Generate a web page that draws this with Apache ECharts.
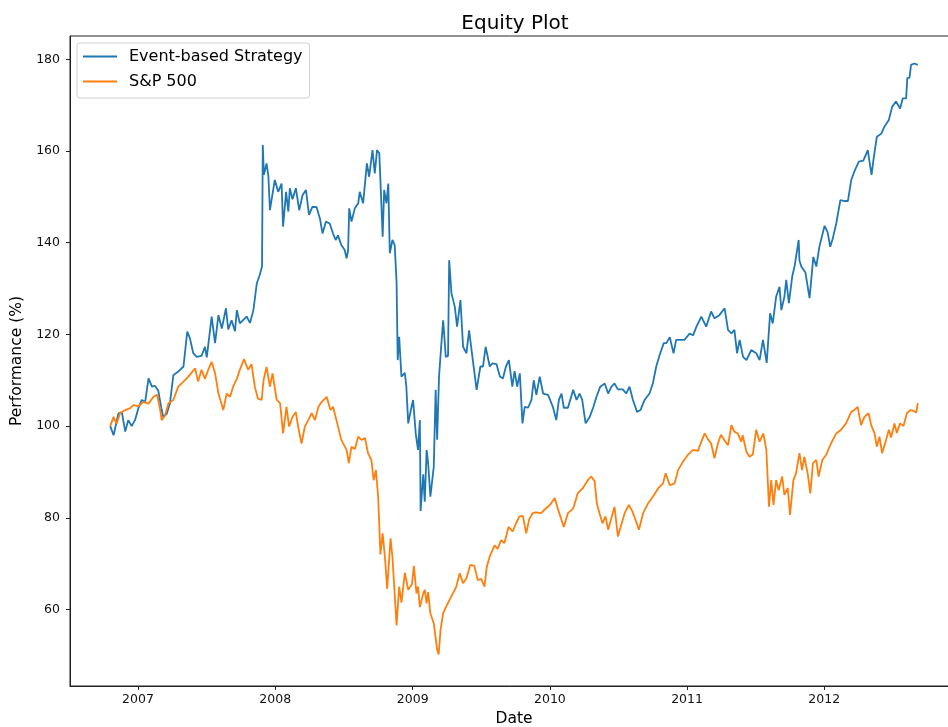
<!DOCTYPE html>
<html>
<head>
<meta charset="utf-8">
<script src="https://cdn.jsdelivr.net/npm/echarts@6/dist/echarts.min.js"></script>
<style>html,body{margin:0;padding:0;background:#fff;}#c{width:948px;height:727px;}</style>
</head>
<body>
<div id="c"></div>
<script>
const strategyDates = ['2006-10-19','2006-10-28','2006-11-01','2006-11-10','2006-11-19','2006-11-28','2006-12-06','2006-12-15','2006-12-24','2007-01-02','2007-01-11','2007-01-20','2007-01-29','2007-02-07','2007-02-15','2007-02-24','2007-03-05','2007-03-09','2007-03-18','2007-03-27','2007-04-05','2007-04-18','2007-05-02','2007-05-12','2007-05-19','2007-05-28','2007-06-06','2007-06-19','2007-06-28','2007-07-03','2007-07-16','2007-07-25','2007-08-03','2007-08-12','2007-08-23','2007-08-29','2007-09-07','2007-09-16','2007-09-21','2007-09-29','2007-10-17','2007-10-26','2007-11-04','2007-11-13','2007-11-21','2007-11-27','2007-11-29','2007-12-02','2007-12-09','2007-12-14','2007-12-18','2007-12-31','2008-01-09','2008-01-18','2008-01-22','2008-01-30','2008-02-05','2008-02-09','2008-02-16','2008-02-25','2008-03-05','2008-03-14','2008-03-23','2008-03-31','2008-04-09','2008-04-20','2008-04-29','2008-05-06','2008-05-15','2008-05-25','2008-06-03','2008-06-10','2008-06-16','2008-06-25','2008-07-04','2008-07-09','2008-07-13','2008-07-16','2008-07-22','2008-07-31','2008-08-09','2008-08-13','2008-08-22','2008-09-01','2008-09-07','2008-09-16','2008-09-22','2008-09-28','2008-10-04','2008-10-07','2008-10-13','2008-10-17','2008-10-23','2008-10-28','2008-11-01','2008-11-08','2008-11-14','2008-11-19','2008-11-22','2008-11-26','2008-12-02','2008-12-11','2008-12-15','2008-12-20','2008-12-27','2009-01-02','2009-01-09','2009-01-15','2009-01-20','2009-01-22','2009-01-29','2009-02-02','2009-02-07','2009-02-11','2009-02-17','2009-02-26','2009-03-03','2009-03-07','2009-03-12','2009-03-19','2009-03-23','2009-03-30','2009-04-05','2009-04-08','2009-04-14','2009-04-23','2009-04-29','2009-05-08','2009-05-15','2009-05-24','2009-05-31','2009-06-11','2009-06-20','2009-06-30','2009-07-07','2009-07-14','2009-07-25','2009-08-01','2009-08-12','2009-08-21','2009-08-29','2009-09-06','2009-09-14','2009-09-23','2009-09-29','2009-10-06','2009-10-13','2009-10-20','2009-10-26','2009-11-04','2009-11-13','2009-11-19','2009-11-26','2009-12-05','2009-12-14','2009-12-27','2010-01-09','2010-01-18','2010-01-25','2010-02-01','2010-02-07','2010-02-18','2010-03-04','2010-03-13','2010-03-21','2010-03-28','2010-04-06','2010-04-17','2010-04-26','2010-05-05','2010-05-15','2010-05-27','2010-06-05','2010-06-14','2010-06-22','2010-07-01','2010-07-14','2010-07-23','2010-08-01','2010-08-10','2010-08-21','2010-08-30','2010-09-10','2010-09-23','2010-10-02','2010-10-11','2010-10-20','2010-10-31','2010-11-07','2010-11-16','2010-11-26','2010-12-03','2010-12-25','2011-01-08','2011-01-17','2011-01-26','2011-02-08','2011-02-21','2011-03-06','2011-03-15','2011-03-28','2011-04-11','2011-04-20','2011-04-29','2011-05-07','2011-05-14','2011-05-21','2011-05-30','2011-06-08','2011-06-21','2011-07-04','2011-07-13','2011-07-22','2011-08-01','2011-08-10','2011-08-17','2011-08-26','2011-09-04','2011-09-09','2011-09-17','2011-09-22','2011-09-29','2011-10-08','2011-10-14','2011-10-25','2011-10-27','2011-11-01','2011-11-12','2011-11-23','2011-12-03','2011-12-11','2011-12-19','2012-01-02','2012-01-10','2012-01-17','2012-01-24','2012-02-02','2012-02-13','2012-02-24','2012-03-04','2012-03-13','2012-03-21','2012-04-02','2012-04-14','2012-04-26','2012-04-30','2012-05-06','2012-05-11','2012-05-20','2012-06-01','2012-06-09','2012-06-21','2012-06-30','2012-07-10','2012-07-21','2012-07-28','2012-08-06','2012-08-09','2012-08-15','2012-08-19','2012-08-28','2012-09-06'];
const strategyValues = [100,98.0,97.7,102.8,103,98.8,101.3,100,101.3,103.9,105.7,105.3,110.4,108.6,108.8,107.7,103.5,102.0,102.6,105,111.1,111.9,113,120.6,119.2,115.9,115.1,115.3,117.3,115,123.9,118.1,124.2,121.3,125.7,121.1,123.1,120.7,125.3,122.4,123.9,122.5,125.3,131.1,133,134.8,161.3,154.8,157.3,154.4,147.1,153.7,151.1,152.9,143.5,151.1,146.8,151.9,149.5,151.9,147.1,150.4,151.5,146.1,147.8,147.8,145.3,142,144.6,144.2,142,140.6,141.6,139.5,138.4,136.6,138.3,147.5,144.6,147.5,148.6,151.1,148.6,157.3,154.4,160.2,155.1,160.2,159.5,153.7,141.3,151.5,148.6,152.9,137.7,140.6,139.5,131.4,114.4,119.5,110.8,111.6,108.6,100.6,103.5,105.7,98.4,94.8,101.3,81.5,89.5,83.5,94.8,91.9,84.6,91.1,107.9,97,110.8,118.8,123.1,115.1,115.3,136.2,129,126,121.7,127.5,117.3,115.9,120.9,113.7,107.9,113,113,117.3,113,113.7,113.5,110.8,110.4,113,114.4,108.6,112,108.6,111.5,100.6,104.2,104,105.7,110,106.8,110.8,107.1,106.8,104.2,101.3,105.7,107.1,104,104,107.9,105.7,107.1,105.7,100.6,102,104,106.4,108.6,109.3,107.1,108.6,109.3,108,108,107.1,108.6,105.7,103.1,103.5,105.7,107.1,109.3,113,115.5,118.1,118.1,119.4,115.9,118.8,118.8,120.2,119.8,121.7,123.9,121.7,125.0,123.5,124.2,125.7,121,120.2,121,115.9,118.8,115.1,114.4,116.6,115.9,114.4,118.8,113.8,124.6,122.4,128.2,130.4,125.3,128.2,131.9,126.8,132.7,134.8,140.6,136.2,134.8,133.5,127.9,136.9,134.8,139.1,143.7,142.3,139.1,141,144.2,149.3,149.1,149.1,153.7,155.5,157.7,157.9,160.2,157.9,154.8,158.1,163.1,163.8,165.3,166.8,169.7,170.8,169.3,171.5,171.5,175.9,176,178.8,179.1,178.8];

const spDates = ['2006-10-19','2006-10-28','2006-11-05','2006-11-14','2006-11-28','2006-12-11','2006-12-20','2007-01-02','2007-01-15','2007-01-29','2007-02-11','2007-02-21','2007-03-01','2007-03-05','2007-03-14','2007-03-23','2007-04-05','2007-04-18','2007-05-02','2007-05-15','2007-06-02','2007-06-10','2007-06-19','2007-06-28','2007-07-07','2007-07-16','2007-07-25','2007-08-03','2007-08-16','2007-08-25','2007-09-03','2007-09-11','2007-09-21','2007-09-29','2007-10-10','2007-10-21','2007-10-30','2007-11-08','2007-11-16','2007-11-26','2007-12-01','2007-12-09','2007-12-18','2007-12-25','2008-01-05','2008-01-14','2008-01-22','2008-01-31','2008-02-07','2008-02-16','2008-02-25','2008-03-02','2008-03-11','2008-03-20','2008-03-29','2008-04-07','2008-04-16','2008-04-25','2008-05-04','2008-05-17','2008-05-27','2008-06-03','2008-06-12','2008-06-25','2008-07-09','2008-07-15','2008-07-22','2008-07-31','2008-08-09','2008-08-18','2008-08-27','2008-09-04','2008-09-13','2008-09-19','2008-09-25','2008-10-01','2008-10-07','2008-10-13','2008-10-19','2008-10-25','2008-11-03','2008-11-08','2008-11-19','2008-11-26','2008-12-02','2008-12-11','2008-12-20','2008-12-30','2009-01-04','2009-01-11','2009-01-15','2009-01-20','2009-01-29','2009-02-02','2009-02-07','2009-02-11','2009-02-17','2009-02-26','2009-03-07','2009-03-11','2009-03-16','2009-03-23','2009-03-31','2009-04-09','2009-04-18','2009-04-27','2009-05-06','2009-05-15','2009-05-24','2009-06-03','2009-06-14','2009-06-23','2009-07-02','2009-07-11','2009-07-17','2009-07-26','2009-08-07','2009-08-15','2009-08-24','2009-09-02','2009-09-13','2009-09-24','2009-10-03','2009-10-12','2009-10-21','2009-10-30','2009-11-07','2009-11-16','2009-11-25','2009-12-09','2009-12-17','2010-01-01','2010-01-14','2010-01-22','2010-02-01','2010-02-07','2010-02-18','2010-03-04','2010-03-16','2010-03-29','2010-04-12','2010-04-21','2010-04-30','2010-05-06','2010-05-13','2010-05-21','2010-05-29','2010-06-05','2010-06-14','2010-06-22','2010-07-01','2010-07-10','2010-07-19','2010-07-30','2010-08-08','2010-08-17','2010-08-26','2010-09-06','2010-09-19','2010-10-02','2010-10-16','2010-10-29','2010-11-05','2010-11-16','2010-11-29','2010-12-08','2010-12-21','2011-01-03','2011-01-17','2011-01-30','2011-02-08','2011-02-17','2011-02-25','2011-03-06','2011-03-15','2011-03-24','2011-04-01','2011-04-13','2011-04-20','2011-04-29','2011-05-07','2011-05-16','2011-05-25','2011-05-29','2011-06-08','2011-06-16','2011-06-25','2011-07-04','2011-07-13','2011-07-23','2011-07-31','2011-08-07','2011-08-13','2011-08-19','2011-08-26','2011-09-02','2011-09-11','2011-09-17','2011-09-26','2011-10-02','2011-10-11','2011-10-18','2011-10-27','2011-11-03','2011-11-09','2011-11-18','2011-11-25','2011-12-02','2011-12-11','2011-12-17','2011-12-27','2012-01-06','2012-01-19','2012-02-02','2012-02-15','2012-02-28','2012-03-13','2012-03-21','2012-03-30','2012-04-08','2012-04-17','2012-04-28','2012-05-05','2012-05-14','2012-05-20','2012-05-27','2012-06-03','2012-06-12','2012-06-21','2012-06-27','2012-07-06','2012-07-12','2012-07-21','2012-07-30','2012-08-08','2012-08-17','2012-08-26','2012-09-02','2012-09-06'];
const spValues = [100,102,100.5,102.8,103.5,103.9,104.6,104.3,105.3,104.9,106.4,106.8,103.5,101.3,102.3,105,105.7,108.6,109.7,110.8,112.6,109.7,112.3,110.3,112.3,114.0,111.6,107.1,103.5,107.1,106.4,108.6,110.3,112.3,114.6,112.3,113.5,108.5,106,105.7,110,112.9,108.6,111.5,105.7,105,98.4,104.2,99.9,102,103.1,99.9,96.2,99.9,101.3,102.8,101.3,104.2,105.3,106.4,103.5,104.2,101.3,97,94.8,91.9,95.5,95,97.7,97,97.4,94.1,92.6,88.2,90.4,84.6,72,76.6,71.5,64.5,75.5,71.5,56.5,65,61.5,68,64.3,65.5,69.5,63.5,65,60.5,63.5,64.3,61.3,63.8,59.1,57,51.2,50.2,55.5,59.2,60.6,62.1,63.5,65,67.9,65.7,66.8,69.7,69.5,66.4,66.7,65,69.3,71.8,74,73.2,75.1,74.5,78,77,78.8,80.3,80.4,76.6,79.7,81,81.2,81,81.7,82.8,84.3,82,79.5,78,81,82,85.3,86.4,88.2,89.0,88,83.1,81,78.8,80.3,77.4,80,82.4,75.9,78.5,81,82.8,81.5,79.5,77.4,81,83.1,84.6,86.4,87.5,89.7,87.1,87.5,90.4,92.2,93.7,94.8,94.6,96.6,98.4,97.2,96.2,93,96.2,98.1,96.6,95.8,100.2,98.8,98.4,96.6,98,94.4,93.3,93.8,99.2,96.6,98.4,94.8,82.4,88.2,82.8,88.2,86,89.0,85,86.5,80.6,88.2,89.7,94.1,90.4,93.3,89.7,85.3,91.9,92.6,89,92.6,93.7,96.2,98.4,99.2,100.6,103.1,103.5,104.2,100.2,102,102.8,100.2,98.4,95.5,97.7,94.1,96.5,99.2,97.5,100.6,98.5,100.6,100,102.8,103.5,103.3,103,105];

const yearTicks = ['2007-01-01','2008-01-01','2009-01-01','2010-01-01','2011-01-01','2012-01-01'];
const valueTicks = [60,80,100,120,140,160,180];

function ts(s){const p=s.split('-').map(Number);return Date.UTC(p[0],p[1]-1,p[2]);}
function pairs(d,v){return d.map((x,i)=>[ts(x),v[i]]);}

const FONT = 'DejaVu Sans';
const chart = echarts.init(document.getElementById('c'), null, {renderer:'canvas'});
chart.setOption({
  animation:false,
  backgroundColor:'#ffffff',
  textStyle:{fontFamily:FONT},
  title:{text:'Equity Plot',left:510,top:9,textAlign:'center',
    textStyle:{fontFamily:FONT,fontSize:20,fontWeight:'normal',color:'#000'}},
  legend:{orient:'vertical',left:77,top:43,icon:'rect',itemWidth:34,itemHeight:2,itemGap:6,
    padding:[4,7,7,6],backgroundColor:'#fff',borderColor:'#d0d0d0',borderWidth:1,borderRadius:3,
    textStyle:{fontFamily:FONT,fontSize:16,color:'#000',lineHeight:19,padding:[0,0,0,7]},
    data:['Event-based Strategy','S&P 500']},
  grid:{left:70,right:-10,top:36,bottom:41,show:true,borderColor:'#222',borderWidth:1,
    containLabel:false,outerBoundsMode:'none'},
  xAxis:{type:'value',min:ts('2006-07-04'),max:ts('2012-12-22'),scale:true,
    name:'Date',nameLocation:'middle',nameGap:25,
    nameTextStyle:{fontFamily:FONT,fontSize:15.5,color:'#000'},
    splitLine:{show:false},
    axisLine:{show:true,lineStyle:{color:'#222',width:1}},
    axisTick:{show:true,length:4,inside:false,lineStyle:{color:'#222'},customValues:yearTicks.map(ts)},
    axisLabel:{fontFamily:FONT,fontSize:12.5,color:'#111',margin:7,hideOverlap:false,
      customValues:yearTicks.map(ts),formatter:function(v){return String(new Date(v).getUTCFullYear());}}},
  yAxis:{type:'value',min:43.3,max:185.1,
    name:'Performance (%)',nameLocation:'middle',nameGap:40,nameRotate:90,
    nameTextStyle:{fontFamily:FONT,fontSize:15.5,color:'#000'},
    splitLine:{show:false},
    axisLine:{show:true,lineStyle:{color:'#222',width:1}},
    axisTick:{show:true,length:4,lineStyle:{color:'#222'},customValues:valueTicks},
    axisLabel:{fontFamily:FONT,fontSize:12.5,color:'#111',margin:10,customValues:valueTicks}},
  series:[
    {name:'Event-based Strategy',type:'line',showSymbol:false,symbol:'none',color:'#1f77b4',
      lineStyle:{width:1.8,color:'#1f77b4'},data:pairs(strategyDates,strategyValues)},
    {name:'S&P 500',type:'line',showSymbol:false,symbol:'none',color:'#ff7f0e',
      lineStyle:{width:1.8,color:'#ff7f0e'},data:pairs(spDates,spValues)}
  ]
});
</script>
</body>
</html>
